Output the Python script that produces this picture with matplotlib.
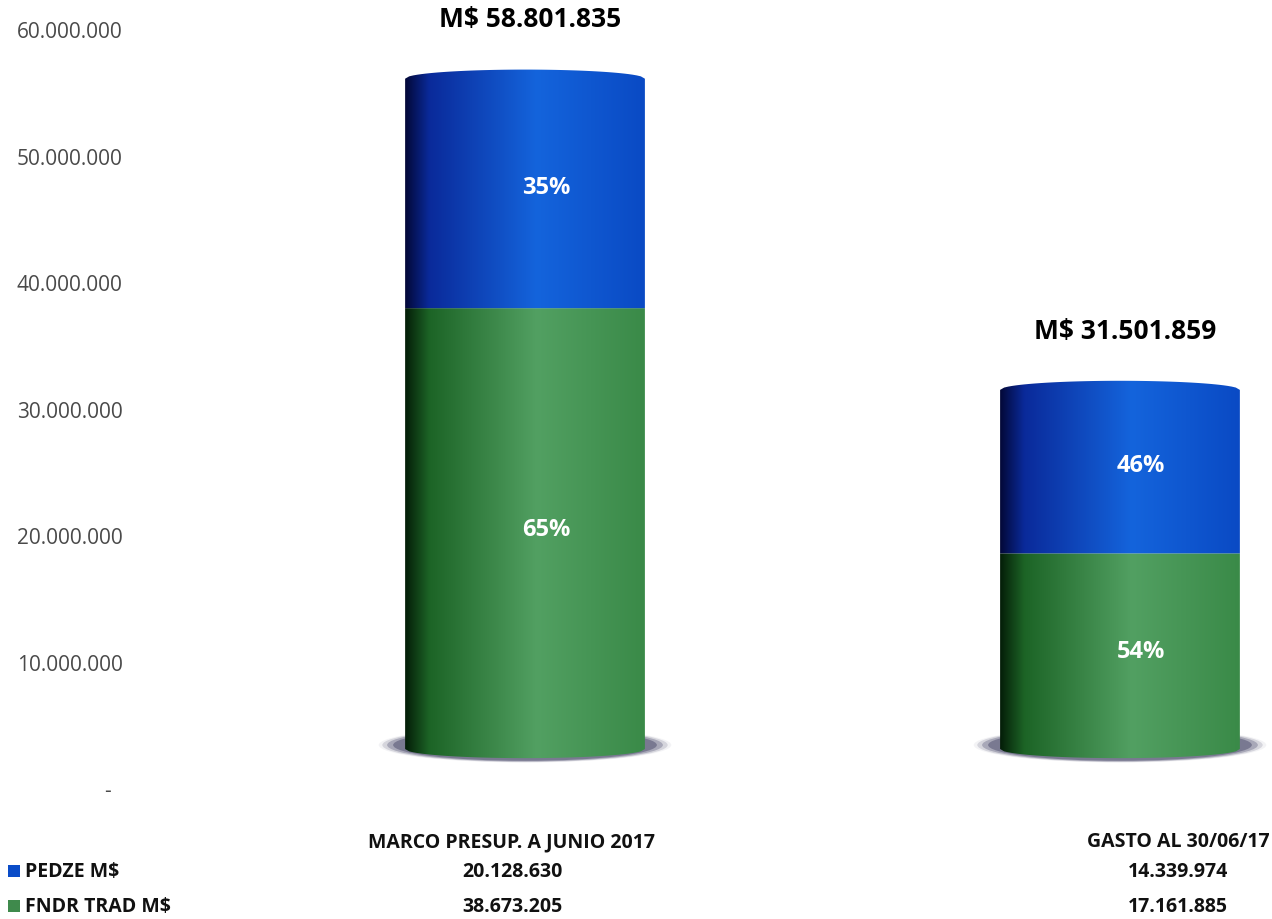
'''
stacked cylinder chart of the FNDR budget vs spending
(PEDZE and FNDR tradicional), June 2017
'''
import numpy as np
import matplotlib
matplotlib.use('Agg')
import matplotlib.pyplot as plt
from matplotlib.path import Path
from matplotlib.patches import PathPatch, Ellipse, Rectangle
from matplotlib.colors import LinearSegmentedColormap

#data
categories = ['MARCO PRESUP. A JUNIO 2017', 'GASTO AL 30/06/17']
series_names = ['PEDZE M$', 'FNDR TRAD M$']
pedze = [20128630, 14339974]
fndr = [38673205, 17161885]
totals = [58801835, 31501859]
pedze_pct = ['35%', '46%']
fndr_pct = ['65%', '54%']
yticks = [0, 10000000, 20000000, 30000000, 40000000, 50000000, 60000000]

#colours, dark left edge -> light middle -> mid right edge
blue_cm = LinearSegmentedColormap.from_list('b', [(0, '#030838'), (0.1, '#0a2a9a'), (0.55, '#1464dc'), (1, '#0a4ac4')])
green_cm = LinearSegmentedColormap.from_list('g', [(0, '#041e08'), (0.1, '#1c6426'), (0.55, '#52a062'), (1, '#3a8a48')])
blue_key = '#0a4cc8'
green_key = '#3f8a4c'
bold_font = 'Open Sans'

def fmt(v):
    return f'{v:,}'.replace(',', '.')

fig = plt.figure(figsize=(12.72, 9.2), dpi=100)
rect = [135/1272, 120/920, 1137/1272, 780/920]

#axes holding only the y tick labels
ax_t = fig.add_axes(rect)
ax_t.set_ylim(-0.87e6, 60.83e6)
ax_t.set_yticks(yticks)
ax_t.set_yticklabels(['-  '] + [fmt(t) for t in yticks[1:]], fontsize=15,
                     family='Open Sans', color='#4a4a4a')
ax_t.tick_params(axis='y', length=0, pad=9)
ax_t.set_xticks([])
for s in ax_t.spines.values():
    s.set_visible(False)

#axes for the cylinders
ax = fig.add_axes(rect)
ax.patch.set_alpha(0)
ax.set_xlim(-0.6555, 1.2555)
ax.set_ylim(-4.386e6, 64.04e6)
ax.axis('off')

width = 0.403
cap = 0.8e6
grad = np.linspace(0, 1, 256).reshape(1, -1)

def arc(x0, x1, y, h, n=60):
    xs = np.linspace(x0, x1, n)
    xc = (x0 + x1) / 2
    ys = y + h * np.sqrt(np.clip(1 - ((xs - xc) / ((x1 - x0) / 2))**2, 0, 1))
    return list(zip(xs, ys))

def segment(xc, y0, y1, cmap, top_arc, bottom_arc):
    x0, x1 = xc - width/2, xc + width/2
    pts = [(x0, y0), (x0, y1)]
    pts += arc(x0, x1, y1, cap if top_arc else 0)
    pts += [(x1, y0)]
    pts += arc(x0, x1, y0, -cap if bottom_arc else 0)[::-1]
    patch = PathPatch(Path(pts), transform=ax.transData, facecolor='none', edgecolor='none')
    im = ax.imshow(grad, cmap=cmap, aspect='auto', zorder=2,
                   extent=[x0, x1, y0 - 2*cap, y1 + 2*cap])
    im.set_clip_path(patch)

for i in range(len(categories)):
    #soft shadow under the cylinder
    for k, a, c in zip([1.22, 1.19, 1.15, 1.1], [0.25, 0.4, 0.6, 0.8],
                       ['#d0d0da', '#a8a8b8', '#8a8aa0', '#6e6e88']):
        ax.add_patch(Ellipse((i, 0.35e6), width*k, 2.9e6*k/1.15, facecolor=c,
                             edgecolor='none', alpha=a, zorder=1))
    segment(i, 0, fndr[i], green_cm, False, True)
    segment(i, fndr[i], fndr[i] + pedze[i], blue_cm, True, False)
    ax.text(i + 0.035, fndr[i]/2, fndr_pct[i], color='white', fontsize=17,
            family=bold_font, fontweight='bold', ha='center', va='center', zorder=3)
    ax.text(i + 0.035, fndr[i] + pedze[i]/2 + 0.6e6, pedze_pct[i], color='white', fontsize=17,
            family=bold_font, fontweight='bold', ha='center', va='center', zorder=3)
    ax.annotate('M$ ' + fmt(totals[i]), (i, totals[i]), xytext=(4, 43), textcoords='offset points',
                ha='center', va='center', fontsize=19, family=bold_font, fontweight='bold')

#data table under the chart
col_x = [512/1272, 1178/1272]
row_y = [1 - 842/920, 1 - 872/920, 1 - 907/920]
tkw = dict(fontsize=14, family=bold_font, fontweight='bold', ha='center', va='center', color='#111111')
for i in range(len(categories)):
    fig.text(col_x[i], row_y[0], categories[i], **tkw)
    fig.text(col_x[i], row_y[1], fmt(pedze[i]), **tkw)
    fig.text(col_x[i], row_y[2], fmt(fndr[i]), **tkw)
for name, col, y in zip(series_names, [blue_key, green_key], row_y[1:]):
    fig.patches.append(Rectangle((8/1272, y - 6/920), 12/1272, 12/920, transform=fig.transFigure,
                                 facecolor=col, edgecolor='none'))
    fig.text(25/1272, y, name, fontsize=14, family=bold_font, fontweight='bold',
             ha='left', va='center', color='#111111')

plt.savefig('out.png', dpi=100)
